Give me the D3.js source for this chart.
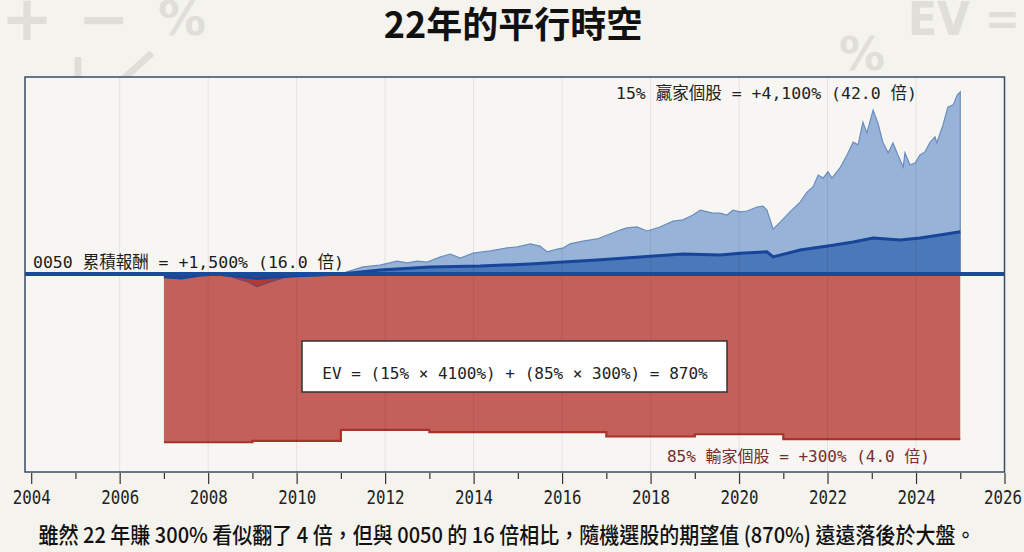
<!DOCTYPE html>
<html lang="zh-Hant">
<head>
<meta charset="UTF-8">
<title>22年的平行時空</title>
<script src="https://d3js.org/d3.v7.min.js"></script>
<style>
  body { margin: 0; background: #f5f3ee; }
  svg { display: block; }
</style>
</head>
<body>
<svg width="1024" height="552"></svg>
<script>
// winners (top 15%) cumulative return, %
var winnerYears = [2007.0, 2007.5, 2008.0, 2008.5, 2008.9, 2009.1, 2009.4, 2009.8, 2010.2, 2010.6,
  2011.05, 2011.5, 2011.88, 2012.27, 2012.5, 2012.72, 2012.95, 2013.24, 2013.47, 2013.7,
  2013.99, 2014.38, 2014.76, 2014.99, 2015.28, 2015.5, 2015.66, 2015.89, 2016.03, 2016.18,
  2016.47, 2016.79, 2017.08, 2017.31, 2017.47, 2017.69, 2017.92, 2018.21, 2018.51, 2018.73,
  2018.96, 2019.12, 2019.41, 2019.57, 2019.73, 2019.86, 2020.02, 2020.18, 2020.41, 2020.54,
  2020.63, 2020.77, 2020.93, 2021.15, 2021.38, 2021.54, 2021.67, 2021.79, 2021.9, 2022.01,
  2022.1, 2022.28, 2022.44, 2022.58, 2022.69, 2022.8, 2022.89, 2023.03, 2023.14, 2023.25,
  2023.37, 2023.48, 2023.59, 2023.71, 2023.75, 2023.86, 2023.98, 2024.09, 2024.2, 2024.32,
  2024.43, 2024.47, 2024.61, 2024.72, 2024.84, 2024.93, 2025.0];
var winnerValues = [-10, -20, 0, -60, -180, -290, -180, -60, -20, 0,
  20, 160, 200, 290, 250, 290, 270, 380, 450, 360,
  470, 520, 590, 610, 680, 630, 500, 560, 590, 680,
  740, 790, 900, 990, 1040, 1060, 970, 1060, 1190, 1220,
  1330, 1440, 1370, 1370, 1330, 1440, 1400, 1420, 1510, 1530,
  1440, 1010, 1170, 1400, 1620, 1850, 1960, 2230, 2160, 2300,
  2160, 2390, 2680, 2970, 2910, 3420, 3180, 3690, 3400, 2970,
  2730, 2950, 2680, 2410, 2730, 2460, 2500, 2680, 2750, 2970,
  3090, 2950, 3360, 3760, 3810, 4030, 4100];

// 0050 cumulative return, %
var indexYears = [2007.0, 2007.4, 2007.8, 2008.2, 2008.7, 2009.1, 2009.5, 2010.0, 2010.5, 2011.0,
  2011.89, 2013.02, 2014.15, 2015.28, 2016.02, 2016.79, 2017.76, 2018.73, 2019.57, 2020.02,
  2020.63, 2020.77, 2021.38, 2022.12, 2022.58, 2023.03, 2023.34, 2023.64, 2024.09, 2024.54, 2025.0];
var indexValues = [-60, -90, -30, 0, -50, -100, -70, -40, -20, 0,
  90, 160, 180, 225, 270, 315, 385, 450, 430, 470,
  500, 385, 540, 650, 720, 810, 790, 765, 810, 880, 950];

// losers (bottom 85%), drawn downward as steps
var loserYears = [2007, 2009, 2011, 2013, 2015, 2017, 2019, 2021, 2023, 2025];
var loserValues = [-3790, -3760, -3510, -3560, -3560, -3660, -3610, -3720, -3720, -3720];

var tickYears = d3.range(2004, 2027);

var winners = d3.zip(winnerYears, winnerValues);
var index = d3.zip(indexYears, indexValues);
var losers = d3.zip(loserYears, loserValues);

var svg = d3.select("svg");
var plot = {left: 25, right: 1004.5, top: 77, bottom: 472};

var x = d3.scaleLinear().domain([2003.86, 2026]).range([plot.left, plot.right]);
var y = d3.scaleLinear().domain([-4460, 4438]).range([plot.bottom, plot.top]);

// background decorations
var deco = svg.append("g").attr("fill", "#e0ded9").attr("font-family", "DejaVu Sans")
  .attr("font-weight", "bold");
deco.append("text").attr("x", 27).attr("y", 40).attr("text-anchor", "middle").attr("font-size", 62).text("+");
deco.append("text").attr("x", 104).attr("y", 40).attr("text-anchor", "middle").attr("font-size", 62).text("−");
deco.append("text").attr("x", 182).attr("y", 35).attr("text-anchor", "middle").attr("font-size", 48).text("%");
deco.append("text").attr("x", 862).attr("y", 70).attr("text-anchor", "middle").attr("font-size", 46).text("%");
deco.append("text").attr("x", 908).attr("y", 35).attr("font-size", 46)
  .attr("textLength", 112).attr("lengthAdjust", "spacingAndGlyphs").text("EV =");
deco.append("line").attr("x1", 78).attr("y1", 57).attr("x2", 78).attr("y2", 80)
  .attr("stroke", "#e0ded9").attr("stroke-width", 7);
deco.append("line").attr("x1", 152).attr("y1", 53).attr("x2", 122).attr("y2", 80)
  .attr("stroke", "#e0ded9").attr("stroke-width", 7);

// title
svg.append("text").attr("x", 513).attr("y", 38).attr("text-anchor", "middle")
  .attr("font-family", "Noto Sans CJK TC").attr("font-weight", 700).attr("font-size", 36)
  .attr("fill", "#111").text("22年的平行時空");

// plot background
svg.append("rect").attr("x", plot.left).attr("y", plot.top)
  .attr("width", plot.right - plot.left).attr("height", plot.bottom - plot.top)
  .attr("fill", "#f7f6f2");

var defs = svg.append("defs");
defs.append("clipPath").attr("id", "above").append("rect")
  .attr("x", plot.left).attr("y", plot.top)
  .attr("width", plot.right - plot.left).attr("height", y(0) - plot.top);
defs.append("clipPath").attr("id", "below").append("rect")
  .attr("x", plot.left).attr("y", y(0))
  .attr("width", plot.right - plot.left).attr("height", plot.bottom - y(0));

var area = d3.area().x(d => x(d[0])).y0(y(0)).y1(d => y(d[1]));
var line = d3.line().x(d => x(d[0])).y(d => y(d[1]));

// losers
svg.append("path").datum(losers)
  .attr("d", area.curve(d3.curveStepAfter))
  .attr("fill", "#c3605a");
svg.append("path").datum(losers)
  .attr("d", d3.line().x(d => x(d[0])).y(d => y(d[1])).curve(d3.curveStepAfter))
  .attr("fill", "none").attr("stroke", "#a8322c").attr("stroke-width", 2.2);
area.curve(d3.curveLinear);

// winners
svg.append("path").datum(winners).attr("d", area).attr("clip-path", "url(#above)")
  .attr("fill", "#97b3d7").attr("stroke", "#6a8cbf").attr("stroke-width", 1.2);
svg.append("path").datum(winners).attr("d", area).attr("clip-path", "url(#below)")
  .attr("fill", "#b33a31").attr("stroke", "#5a4a7a").attr("stroke-width", 1);

// 0050
svg.append("path").datum(index).attr("d", area).attr("clip-path", "url(#above)")
  .attr("fill", "#4b78b8");
svg.append("path").datum(index).attr("d", area).attr("clip-path", "url(#below)")
  .attr("fill", "#4d3f78").attr("opacity", 0.85);
svg.append("path").datum(index).attr("d", line)
  .attr("fill", "none").attr("stroke", "#17459a").attr("stroke-width", 3);

// gridlines (even years)
svg.append("g").selectAll("line")
  .data(tickYears.filter(d => d % 2 === 0 && x(d) > plot.left + 8 && x(d) < plot.right - 2))
  .join("line")
  .attr("x1", d => x(d)).attr("x2", d => x(d))
  .attr("y1", plot.top).attr("y2", plot.bottom)
  .attr("stroke", "#000").attr("stroke-opacity", 0.08).attr("stroke-width", 1);

// zero baseline
svg.append("line").attr("x1", plot.left).attr("x2", plot.right)
  .attr("y1", y(0)).attr("y2", y(0))
  .attr("stroke", "#1a4b99").attr("stroke-width", 4);

// frame
svg.append("rect").attr("x", plot.left).attr("y", plot.top)
  .attr("width", plot.right - plot.left).attr("height", plot.bottom - plot.top)
  .attr("fill", "none").attr("stroke", "#3a4c66").attr("stroke-width", 1.5);

// x axis
var axis = svg.append("g").attr("transform", "translate(0," + (plot.bottom + 1) + ")")
  .call(d3.axisBottom(x).tickValues(tickYears).tickSize(10).tickSizeOuter(0)
    .tickFormat(d => d % 2 === 0 ? d : ""));
axis.select(".domain").remove();
axis.selectAll(".tick line").attr("stroke", "#333").attr("stroke-width", 1.2)
  .attr("y2", d => d % 2 === 0 ? 11 : 6);
axis.selectAll(".tick text").filter(d => d % 2 === 0)
  .attr("font-family", "DejaVu Sans Mono").attr("font-size", 19)
  .attr("textLength", 38).attr("lengthAdjust", "spacingAndGlyphs")
  .attr("fill", "#222").attr("dy", "0.95em")
  .attr("dx", d => d === 2026 ? -2 : 0);

var mono = "DejaVu Sans Mono, Noto Sans CJK TC";

// labels
svg.append("text").attr("x", 616).attr("y", 99).attr("font-family", mono)
  .attr("font-size", 16.5).attr("fill", "#222").text("15% 贏家個股 = +4,100% (42.0 倍)");
svg.append("text").attr("x", 33).attr("y", 268).attr("font-family", mono)
  .attr("font-size", 16.5).attr("fill", "#1a1a1a").text("0050 累積報酬 = +1,500% (16.0 倍)");
svg.append("text").attr("x", 930).attr("y", 462).attr("text-anchor", "end").attr("font-family", mono)
  .attr("font-size", 16).attr("fill", "#7a2b2b").text("85% 輸家個股 = +300% (4.0 倍)");

// EV box
svg.append("rect").attr("x", 302).attr("y", 341).attr("width", 425).attr("height", 51)
  .attr("fill", "#fff").attr("stroke", "#333").attr("stroke-width", 1.5);
svg.append("text").attr("x", 515).attr("y", 379).attr("text-anchor", "middle")
  .attr("font-family", mono).attr("font-size", 16).attr("fill", "#222")
  .text("EV = (15% × 4100%) + (85% × 300%) = 870%");

// caption
svg.append("text").attr("x", 507).attr("y", 543).attr("text-anchor", "middle")
  .attr("font-family", "Noto Sans CJK TC").attr("font-weight", 500).attr("font-size", 22)
  .attr("textLength", 937).attr("lengthAdjust", "spacingAndGlyphs").attr("fill", "#111")
  .text("雖然 22 年賺 300% 看似翻了 4 倍，但與 0050 的 16 倍相比，隨機選股的期望值 (870%) 遠遠落後於大盤。");
</script>
</body>
</html>
